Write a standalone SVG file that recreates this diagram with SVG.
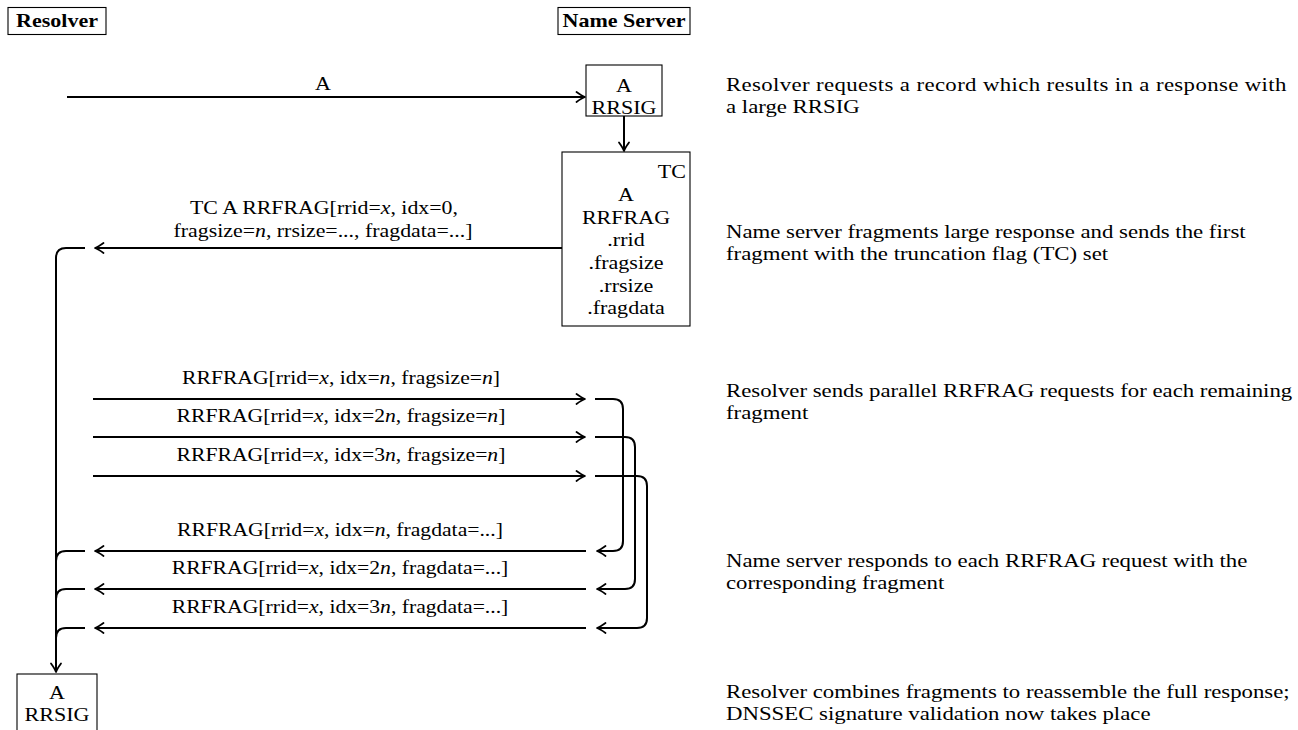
<svg xmlns="http://www.w3.org/2000/svg" width="1298" height="730" viewBox="0 0 1298 730">
<style>
text{font-family:"Liberation Serif","Times New Roman",serif;font-size:19px;fill:#000}
.c{text-anchor:middle}
.r{text-anchor:end}
.b{font-weight:bold}
.i{font-style:italic}
.box{fill:#fff;stroke:#000;stroke-width:1.1}
.ln{fill:none;stroke:#000;stroke-width:2}
</style>
<defs>
<marker id="ah" viewBox="-10 -6 12 12" refX="0" refY="0" markerWidth="12" markerHeight="12" markerUnits="userSpaceOnUse" orient="auto" overflow="visible">
<path d="M -8.5 -5 Q -3 -1 0 0 Q -3 1 -8.5 5" fill="none" stroke="#000" stroke-width="1.8" stroke-linecap="round" stroke-linejoin="round"/>
</marker>
</defs>
<rect width="1298" height="730" fill="#fff"/>

<g id="resolver-head">
<rect class="box" x="8" y="7.5" width="98" height="27"/>
<text class="c b" transform="translate(57,27) scale(1.16,1)">Resolver</text>
</g>
<g id="nameserver-head">
<rect class="box" x="558" y="7.5" width="132" height="27"/>
<text class="c b" transform="translate(624,27) scale(1.16,1)">Name Server</text>
</g>

<g id="ns-response">
<rect class="box" x="586" y="65" width="76" height="51"/>
<text class="c" transform="translate(624,92) scale(1.16,1)">A</text>
<text class="c" transform="translate(624,114) scale(1.16,1)">RRSIG</text>
</g>

<g id="ns-fragment">
<rect class="box" x="562" y="152" width="128" height="174"/>
<text class="r" transform="translate(686,178) scale(1.16,1)">TC</text>
<text class="c" transform="translate(626,201) scale(1.16,1)">A</text>
<text class="c" transform="translate(626,224) scale(1.16,1)">RRFRAG</text>
<text class="c" transform="translate(626,246) scale(1.16,1)">.rrid</text>
<text class="c" transform="translate(626,269) scale(1.16,1)">.fragsize</text>
<text class="c" transform="translate(626,292) scale(1.16,1)">.rrsize</text>
<text class="c" transform="translate(626,314) scale(1.16,1)">.fragdata</text>
</g>

<g id="resolver-result">
<rect class="box" x="17" y="674" width="80" height="70"/>
<text class="c" transform="translate(57,699) scale(1.16,1)">A</text>
<text class="c" transform="translate(57,721) scale(1.16,1)">RRSIG</text>
</g>

<g id="connectors">
<path class="ln" d="M 67 97 H 585" marker-end="url(#ah)"/>
<path class="ln" d="M 624 116 V 151" marker-end="url(#ah)"/>
<path class="ln" d="M 562 248 H 95" marker-end="url(#ah)"/>
<path class="ln" d="M 85 248 H 66 Q 56 248 56 258 V 672" marker-end="url(#ah)"/>

<path class="ln" d="M 93 399 H 585" marker-end="url(#ah)"/>
<path class="ln" d="M 93 437 H 585" marker-end="url(#ah)"/>
<path class="ln" d="M 93 476 H 585" marker-end="url(#ah)"/>

<path class="ln" d="M 595 399 H 613 Q 623 399 623 409 V 541 Q 623 551 613 551 H 597" marker-end="url(#ah)"/>
<path class="ln" d="M 595 437 H 625 Q 635 437 635 447 V 579 Q 635 589 625 589 H 597" marker-end="url(#ah)"/>
<path class="ln" d="M 595 476 H 637 Q 647 476 647 486 V 618 Q 647 628 637 628 H 597" marker-end="url(#ah)"/>

<path class="ln" d="M 586 551 H 95" marker-end="url(#ah)"/>
<path class="ln" d="M 586 589 H 95" marker-end="url(#ah)"/>
<path class="ln" d="M 586 628 H 95" marker-end="url(#ah)"/>

<path class="ln" d="M 85 551 H 66 Q 56 551 56 561"/>
<path class="ln" d="M 85 589 H 66 Q 56 589 56 599"/>
<path class="ln" d="M 85 628 H 66 Q 56 628 56 638"/>
</g>

<g id="labels">
<text class="c" transform="translate(323,90) scale(1.16,1)">A</text>
<text class="c" transform="translate(324,214) scale(1.15,1)">TC A RRFRAG[rrid=<tspan class="i">x</tspan>, idx=0,</text>
<text class="c" transform="translate(323,237) scale(1.15,1)">fragsize=<tspan class="i">n</tspan>, rrsize=..., fragdata=...]</text>
<text class="c" transform="translate(341,384) scale(1.14,1)">RRFRAG[rrid=<tspan class="i">x</tspan>, idx=<tspan class="i">n</tspan>, fragsize=<tspan class="i">n</tspan>]</text>
<text class="c" transform="translate(341,422) scale(1.14,1)">RRFRAG[rrid=<tspan class="i">x</tspan>, idx=2<tspan class="i">n</tspan>, fragsize=<tspan class="i">n</tspan>]</text>
<text class="c" transform="translate(341,461) scale(1.14,1)">RRFRAG[rrid=<tspan class="i">x</tspan>, idx=3<tspan class="i">n</tspan>, fragsize=<tspan class="i">n</tspan>]</text>
<text class="c" transform="translate(340,536) scale(1.14,1)">RRFRAG[rrid=<tspan class="i">x</tspan>, idx=<tspan class="i">n</tspan>, fragdata=...]</text>
<text class="c" transform="translate(340,574) scale(1.14,1)">RRFRAG[rrid=<tspan class="i">x</tspan>, idx=2<tspan class="i">n</tspan>, fragdata=...]</text>
<text class="c" transform="translate(340,613) scale(1.14,1)">RRFRAG[rrid=<tspan class="i">x</tspan>, idx=3<tspan class="i">n</tspan>, fragdata=...]</text>
</g>

<g id="descriptions" transform="translate(726,0) scale(1.2,1)">
<text x="0" y="91" textLength="467" lengthAdjust="spacing">Resolver requests a record which results in a response with</text>
<text x="0" y="113">a large RRSIG</text>
<text x="0" y="238">Name server fragments large response and sends the first</text>
<text x="0" y="260">fragment with the truncation flag (TC) set</text>
<text x="0" y="397">Resolver sends parallel RRFRAG requests for each remaining</text>
<text x="0" y="419">fragment</text>
<text x="0" y="567">Name server responds to each RRFRAG request with the</text>
<text x="0" y="589">corresponding fragment</text>
<text x="0" y="698">Resolver combines fragments to reassemble the full response;</text>
<text x="0" y="720">DNSSEC signature validation now takes place</text>
</g>
</svg>
